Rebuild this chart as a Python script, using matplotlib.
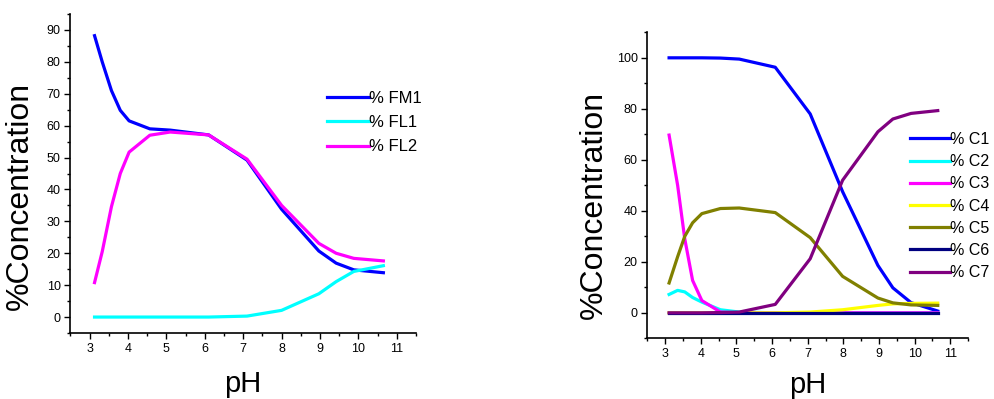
import numpy as np
import matplotlib
matplotlib.use("Agg")
import matplotlib.pyplot as plt
from matplotlib.ticker import MultipleLocator

plt.rcParams['font.family'] = ['Liberation Sans', 'DejaVu Sans']

# left panel: ligand species
ph_a = [3.13, 3.33, 3.57, 3.80, 4.03, 4.57, 5.10, 6.10, 7.10, 8.00, 8.97, 9.42, 9.88, 10.65]
fm1 = [88.2, 80.0, 71.0, 64.8, 61.5, 59.0, 58.6, 57.1, 49.2, 33.8, 20.7, 16.9, 14.8, 13.9]
fl1 = [0, 0, 0, 0, 0, 0, 0, 0, 0.3, 2.1, 7.3, 11.1, 14.3, 16.1]
fl2 = [10.8, 20.5, 34.6, 45.0, 51.7, 57.0, 58.0, 57.1, 49.5, 35.0, 23.1, 20.0, 18.4, 17.6]

# right panel: complex species
ph_b = [3.11, 3.35, 3.55, 3.77, 4.03, 4.55, 5.08, 6.09, 7.07, 7.98, 8.97, 9.39, 9.90, 10.65]
c1 = [100, 100, 100, 100, 100, 99.9, 99.5, 96.3, 78.0, 47.5, 18.6, 9.8, 4.0, 0.7]
c2 = [7.2, 8.8, 8.2, 6.0, 4.2, 1.2, 0.3, 0, 0, 0, 0, 0, 0, 0]
c3 = [69.7, 50.0, 29.0, 12.7, 4.8, 0.3, 0, 0, 0, 0, 0, 0, 0, 0]
c4 = [0, 0, 0, 0, 0, 0, 0, 0, 0.3, 1.2, 2.9, 3.5, 3.7, 3.8]
c5 = [11.7, 22.0, 30.0, 35.3, 38.9, 40.9, 41.1, 39.3, 29.5, 14.3, 5.8, 3.9, 3.1, 2.9]
c6 = [0] * 14
c7 = [0, 0, 0, 0, 0, 0.1, 0.3, 3.3, 21.2, 52.0, 71.0, 76.0, 78.2, 79.3]

left_series = [("% FM1", fm1, "#0000ff"), ("% FL1", fl1, "#00ffff"), ("% FL2", fl2, "#ff00ff")]
right_series = [("% C1", c1, "#0000ff"), ("% C2", c2, "#00ffff"), ("% C3", c3, "#ff00ff"),
                ("% C4", c4, "#ffff00"), ("% C5", c5, "#808000"), ("% C6", c6, "#000080"),
                ("% C7", c7, "#800080")]

fig = plt.figure(figsize=(9.95, 3.99), dpi=100)
ax1 = fig.add_axes([0.0707, 0.1654, 0.3474, 0.7995])
ax2 = fig.add_axes([0.6506, 0.1521, 0.3223, 0.7669])


def style(ax, ymin, ymax, ymaj, pad):
    ax.set_xlim(2.5, 11.5)
    ax.set_ylim(ymin, ymax)
    ax.xaxis.set_major_locator(MultipleLocator(1))
    ax.xaxis.set_minor_locator(MultipleLocator(0.5))
    ax.yaxis.set_major_locator(MultipleLocator(ymaj))
    ax.yaxis.set_minor_locator(MultipleLocator(ymaj / 2))
    ax.spines['top'].set_visible(False)
    ax.spines['right'].set_visible(False)
    for s in ('left', 'bottom'):
        ax.spines[s].set_linewidth(1.2)
    ax.tick_params(which='major', direction='out', length=4, width=1, labelsize=9, pad=3)
    ax.tick_params(which='minor', direction='out', length=2.5, width=1)
    ax.set_xlabel('pH', fontsize=21, labelpad=pad)
    ax.set_ylabel('%Concentration', fontsize=23)


for lab, y, col in left_series:
    ax1.plot(ph_a, y, color=col, lw=2.3, label=lab)
style(ax1, -5, 95, 10, 11)
ax1.yaxis.set_label_coords(35 / 995, 1 - 196 / 399, transform=fig.transFigure)
ax1.legend(loc='upper left', bbox_to_anchor=(327 / 995, 1 - 91 / 399),
           bbox_transform=fig.transFigure, frameon=False, fontsize=12,
           handlelength=2.5, handletextpad=0.0, labelspacing=0.55,
           borderpad=0, borderaxespad=0)

for lab, y, col in right_series:
    ax2.plot(ph_b, y, color=col, lw=2.3, label=lab)
style(ax2, -10, 110, 20, 8)
ax2.yaxis.set_label_coords(609 / 995, 1 - 205 / 399, transform=fig.transFigure)
ax2.legend(loc='upper left', bbox_to_anchor=(910 / 995, 1 - 132 / 399),
           bbox_transform=fig.transFigure, frameon=False, fontsize=11.5,
           handlelength=2.5, handletextpad=0.0, labelspacing=0.45,
           borderpad=0, borderaxespad=0)

fig.savefig('out.png', dpi=100)
